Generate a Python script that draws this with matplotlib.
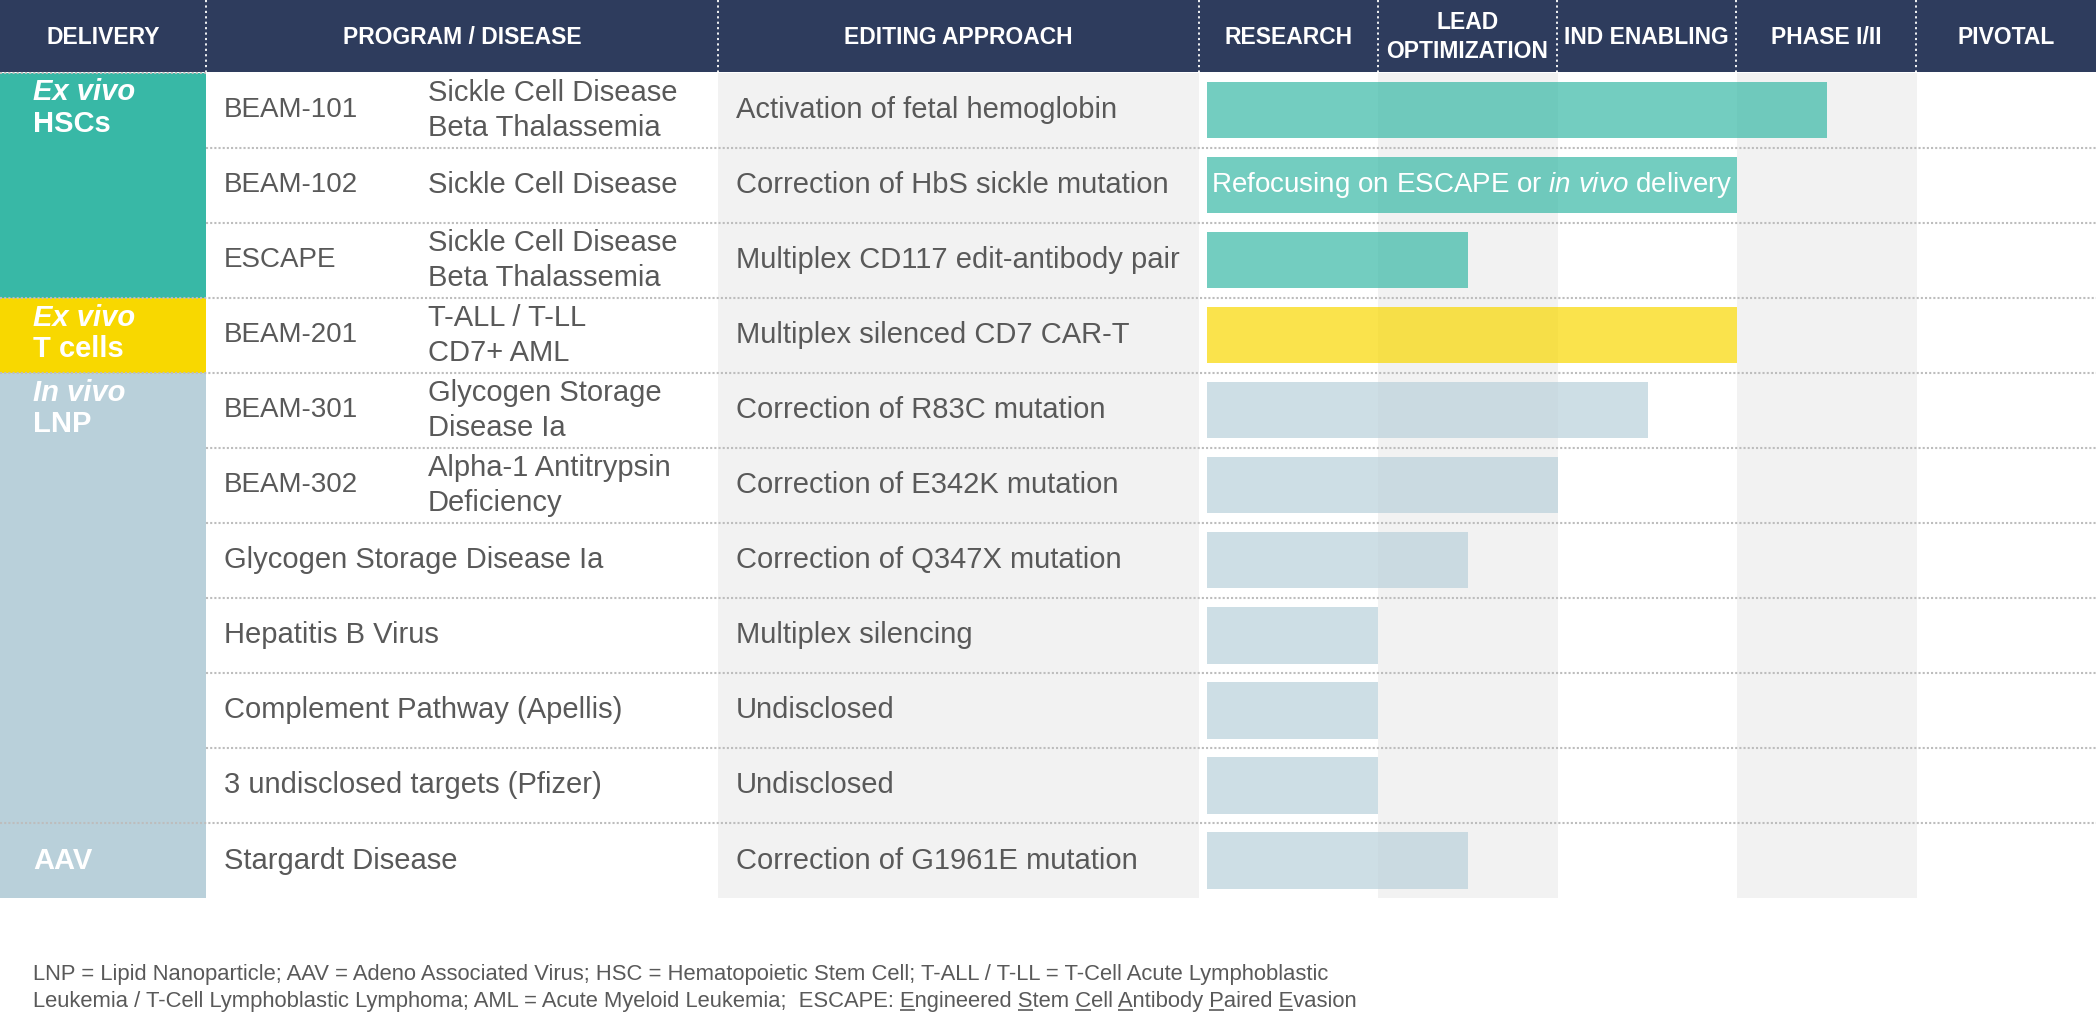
import numpy as np
import matplotlib
matplotlib.use('Agg')
import matplotlib.pyplot as plt
from matplotlib.patches import Rectangle

plt.rcParams['font.family'] = ['Liberation Sans', 'DejaVu Sans']
plt.rcParams['mathtext.fontset'] = 'custom'
plt.rcParams['mathtext.rm'] = 'Liberation Sans'
plt.rcParams['mathtext.it'] = 'Liberation Sans:italic'

# --- data ---
columns = ['DELIVERY', 'PROGRAM / DISEASE', 'EDITING APPROACH']
stages = ['RESEARCH', 'LEAD\nOPTIMIZATION', 'IND ENABLING', 'PHASE I/II', 'PIVOTAL']

delivery_mode = ['Ex vivo', 'Ex vivo', 'In vivo', '']
delivery_type = ['HSCs', 'T cells', 'LNP', 'AAV']
delivery_rows = [3, 1, 6, 1]

programs = ['BEAM-101', 'BEAM-102', 'ESCAPE', 'BEAM-201', 'BEAM-301', 'BEAM-302',
            '', '', '', '', '']
diseases = ['Sickle Cell Disease\nBeta Thalassemia',
            'Sickle Cell Disease',
            'Sickle Cell Disease\nBeta Thalassemia',
            'T-ALL / T-LL\nCD7+ AML',
            'Glycogen Storage\nDisease Ia',
            'Alpha-1 Antitrypsin\nDeficiency',
            'Glycogen Storage Disease Ia',
            'Hepatitis B Virus',
            'Complement Pathway (Apellis)',
            '3 undisclosed targets (Pfizer)',
            'Stargardt Disease']
approaches = ['Activation of fetal hemoglobin',
              'Correction of HbS sickle mutation',
              'Multiplex CD117 edit-antibody pair',
              'Multiplex silenced CD7 CAR-T',
              'Correction of R83C mutation',
              'Correction of E342K mutation',
              'Correction of Q347X mutation',
              'Multiplex silencing',
              'Undisclosed',
              'Undisclosed',
              'Correction of G1961E mutation']
# progress measured in stages (1 = end of research, 2 = end of lead opt, ...)
progress = [3.5, 3.0, 1.5, 3.0, 2.5, 2.0, 1.5, 1.0, 1.0, 1.0, 1.5]
bar_notes = ['', r'Refocusing on ESCAPE or $\mathit{in\ vivo}$ delivery',
             '', '', '', '', '', '', '', '', '']

footnote = ['LNP = Lipid Nanoparticle; AAV = Adeno Associated Virus; HSC = Hematopoietic Stem Cell; '
            'T-ALL / T-LL = T-Cell Acute Lymphoblastic',
            'Leukemia / T-Cell Lymphoblastic Lymphoma; AML = Acute Myeloid Leukemia;  '
            'ESCAPE: Engineered Stem Cell Antibody Paired Evasion']

# --- style / layout ---
navy = '#2E3C5D'
txt = '#595959'
shade = '#F2F2F2'
group_colors = ['#38B8A6', '#F8D800', '#B9D0DA', '#B9D0DA']

W, H = 2096, 1029
head_h = 72
top = 72.5
row_h = 75.05
n = len(programs)
bottom = top + n * row_h
edges = [0, 206, 718, 1199, 1378, 1557, 1736, 1916, 2096]

fig = plt.figure(figsize=(W / 100, H / 100), dpi=100)

# stage chart axes (bars), drawn beneath the table layer
axb = fig.add_axes([edges[3] / W, 1 - bottom / H, (W - edges[3]) / W, (bottom - top) / H])
axb.set_xlim(0, len(stages))
axb.set_ylim(n, 0)
axb.axis('off')
axb.set_zorder(0)
for s in range(1, len(stages), 2):
    axb.axvspan(s, s + 1, color=shade, lw=0, zorder=0)

# bar color per row from delivery group
row_group = np.repeat(np.arange(len(delivery_rows)), delivery_rows)
bar_cols = [group_colors[g] for g in row_group]
start = 0.045
y = np.arange(n) + 0.5
axb.barh(y, np.array(progress) - start, left=start, height=0.75,
         color=bar_cols, alpha=0.7, lw=0, zorder=2)
for yi, note in zip(y, bar_notes):
    if note:
        axb.text(start + 0.02, yi, note, color='white', fontsize=20,
                 va='center', ha='left', zorder=3)

# table layer
ax = fig.add_axes([0, 0, 1, 1])
ax.set_xlim(0, W)
ax.set_ylim(H, 0)
ax.axis('off')
ax.set_zorder(1)
ax.patch.set_visible(False)

# header
ax.add_patch(Rectangle((0, 0), W, head_h, color=navy, lw=0))
ax.vlines(edges[1:-1], 0, head_h, colors='white', linestyles=(0, (1.2, 1.8)), lw=1.3)
heads = columns + stages
for i, h in enumerate(heads):
    cx = (edges[i] + edges[i + 1]) / 2
    ax.text(cx, head_h / 2 + 1, h, color='white', fontsize=16.5, fontweight='bold',
            ha='center', va='center', linespacing=1.3)

# editing approach column shading
ax.add_patch(Rectangle((edges[2], top), edges[3] - edges[2], bottom - top,
                       color=shade, lw=0, zorder=0))

# delivery groups
r0 = 0
for mode, kind, nr, col in zip(delivery_mode, delivery_type, delivery_rows, group_colors):
    y0 = top + r0 * row_h
    ax.add_patch(Rectangle((0, y0), edges[1], nr * row_h, color=col, lw=0, zorder=1))
    if mode:
        ax.text(33, y0 + 20, mode, color='white', fontsize=21, fontweight='bold',
                fontstyle='italic', va='center', ha='left', zorder=3)
        ax.text(33, y0 + 51, kind, color='white', fontsize=21, fontweight='bold',
                va='center', ha='left', zorder=3)
    else:
        ax.text(33, y0 + row_h / 2, kind, color='white', fontsize=21, fontweight='bold',
                va='center', ha='left', zorder=3)
    r0 += nr

# row separators
group_starts = set(np.cumsum([0] + delivery_rows[:-1]))
for i in range(n):
    yy = top + i * row_h
    x0 = 0 if i in group_starts else edges[1]
    x1 = edges[1] if i == 0 else W
    ax.hlines(yy, x0, x1, colors='#BDBDBD', linestyles=(0, (1, 1)), lw=1.5, zorder=2)

# row text
for i in range(n):
    yc = top + (i + 0.5) * row_h
    if programs[i]:
        ax.text(224, yc, programs[i], color=txt, fontsize=20, va='center', ha='left')
        ax.text(428, yc, diseases[i], color=txt, fontsize=21, va='center', ha='left',
                linespacing=1.32)
    else:
        ax.text(224, yc, diseases[i], color=txt, fontsize=21, va='center', ha='left')
    ax.text(736, yc, approaches[i], color=txt, fontsize=21, va='center', ha='left')

# footnote with underlined initials
fx = 33
fy = [980, 1007]
fkw = dict(color=txt, fontsize=15.8, va='baseline', ha='left')
for line, yy in zip(footnote, fy):
    ax.text(fx, yy, line, **fkw)

renderer = fig.canvas.get_renderer()


def width(s):
    t = ax.text(fx, 0, s, **fkw)
    w = t.get_window_extent(renderer).width
    t.remove()
    return w


line = footnote[1]
k = line.index('ESCAPE:') + len('ESCAPE:')
idx = [j for j in range(k, len(line)) if line[j] != ' ' and line[j - 1] == ' ']
for j in idx:
    xr = fx + width(line[:j + 1])
    xl = xr - width(line[j])
    ax.hlines(fy[1] + 3, xl, xr, colors=txt, lw=1.2)

fig.savefig('out.png', dpi=100)
